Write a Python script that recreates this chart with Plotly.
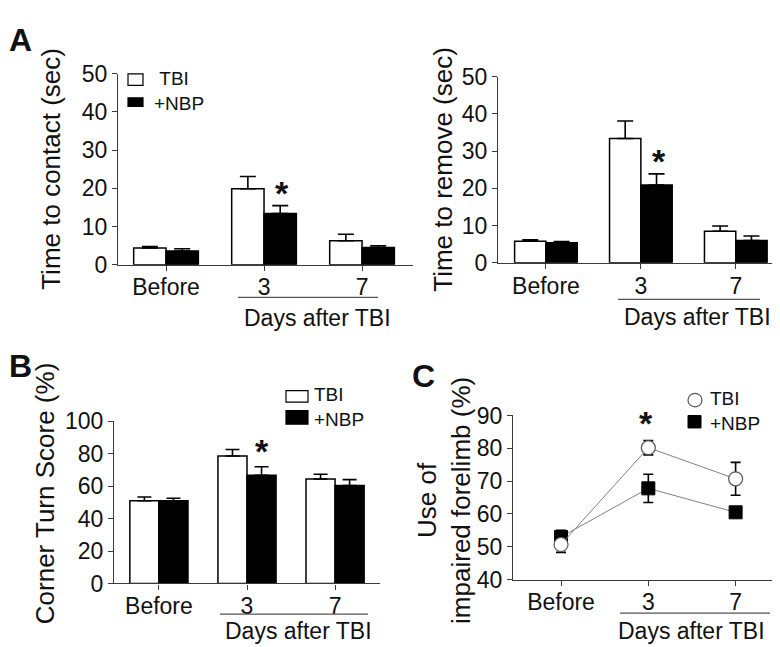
import plotly.graph_objects as go

W, H = 780, 647

def px(x):
    return x / W

def py(y):
    return 1 - y / H

# ---------------- data ----------------
categories = ["Before", "3", "7"]

contact_tbi = [4.4, 19.9, 6.3]
contact_tbi_err = [0.4, 3.2, 1.7]
contact_nbp = [3.6, 13.4, 4.5]
contact_nbp_err = [0.6, 2.1, 0.5]

remove_tbi = [5.8, 33.4, 8.5]
remove_tbi_err = [0.4, 4.7, 1.4]
remove_nbp = [5.4, 20.9, 6.0]
remove_nbp_err = [0.3, 3.0, 1.2]

corner_tbi = [51.0, 78.6, 64.4]
corner_tbi_err = [2.3, 4.0, 2.9]
corner_nbp = [51.0, 66.7, 60.4]
corner_nbp_err = [1.5, 5.2, 3.6]

forelimb_tbi = [50.7, 80.2, 70.7]
forelimb_tbi_err = [2.4, 2.2, 5.0]
forelimb_nbp = [53.0, 67.8, 60.5]
forelimb_nbp_err = [2.0, 4.3, 1.0]

series_names = ["TBI", "+NBP"]

FONT = "Liberation Sans, Arial, Helvetica, sans-serif"
AXC = "#3a3a3a"

fig = go.Figure()

def add_bars(xa, ya, tbi, tbi_err, nbp, nbp_err, capw):
    for vals, errs, fill, name in [(tbi, tbi_err, "white", series_names[0]),
                                   (nbp, nbp_err, "black", series_names[1])]:
        fig.add_trace(go.Bar(
            x=categories, y=vals, name=name, xaxis=xa, yaxis=ya,
            offsetgroup=name, showlegend=False,
            marker=dict(color=fill, line=dict(color="black", width=1.5)),
            error_y=dict(type="data", array=errs, arrayminus=[0] * len(errs),
                         symmetric=False, color="black", thickness=1.6, width=capw),
        ))

add_bars("x", "y", contact_tbi, contact_tbi_err, contact_nbp, contact_nbp_err, 8)
add_bars("x2", "y2", remove_tbi, remove_tbi_err, remove_nbp, remove_nbp_err, 8)
add_bars("x3", "y3", corner_tbi, corner_tbi_err, corner_nbp, corner_nbp_err, 7)

fig.add_trace(go.Scatter(
    x=categories, y=forelimb_nbp, name=series_names[1], xaxis="x4", yaxis="y4",
    mode="lines+markers", showlegend=False,
    line=dict(color="#808080", width=1),
    marker=dict(symbol="square", size=13, color="black", line=dict(color="black", width=1)),
    error_y=dict(type="data", array=forelimb_nbp_err, color="black", thickness=1.6, width=5),
))
fig.add_trace(go.Scatter(
    x=categories, y=forelimb_tbi, name=series_names[0], xaxis="x4", yaxis="y4",
    mode="lines+markers", showlegend=False,
    line=dict(color="#808080", width=1),
    marker=dict(symbol="circle", size=14, color="white", line=dict(color="#555555", width=1.2)),
    error_y=dict(type="data", array=forelimb_tbi_err, color="black", thickness=1.6, width=5),
))

def xax(domain, rng, anchor):
    return dict(domain=domain, range=rng, anchor=anchor, type="category",
                showline=True, linecolor=AXC, linewidth=1.2, ticks="outside",
                ticklen=5, tickcolor=AXC, tickwidth=1.2, showgrid=False, zeroline=False,
                ticklabelstandoff=-3,
                tickfont=dict(family=FONT, size=23, color="#111"), fixedrange=True)

def yax(domain, rng, dtick, anchor):
    return dict(domain=domain, range=rng, anchor=anchor, dtick=dtick, tick0=0,
                showline=True, linecolor=AXC, linewidth=1.2, ticks="outside",
                ticklen=5, tickcolor=AXC, tickwidth=1.2, showgrid=False, zeroline=False,
                tickfont=dict(family=FONT, size=23, color="#111"), fixedrange=True)

fig.update_layout(
    width=W, height=H, margin=dict(l=0, r=0, t=0, b=0),
    paper_bgcolor="white", plot_bgcolor="white",
    barmode="group", bargap=0.34, bargroupgap=0,
    font=dict(family=FONT, color="#111"),
    xaxis=xax([px(110), px(405)], [-0.49, 2.52], "y"),
    yaxis=yax([py(254), py(55)], [0, 50], 10, "x"),
    xaxis2=xax([px(490), px(780)], [-0.505, 2.55], "y2"),
    yaxis2=yax([py(252), py(58)], [0, 50], 10, "x2"),
    xaxis3=xax([px(106), px(372)], [-0.51, 2.51], "y3"),
    yaxis3=yax([py(586), py(417)], [0, 100], 20, "x3"),
    xaxis4=xax([px(505), px(780)], [-0.55, 2.6], "y4"),
    yaxis4=yax([py(582), py(411)], [40, 90], 10, "x4"),
)

ann = []
shapes = []

def text(x, y, s, size=22, angle=0, xanchor="center", yanchor="middle", align="center"):
    ann.append(dict(x=px(x), y=py(y), xref="paper", yref="paper", text=s,
                    showarrow=False, textangle=angle, xanchor=xanchor, yanchor=yanchor,
                    align=align, borderpad=0,
                    font=dict(family=FONT, size=size, color="#111")))

# panel letters
text(0, 0, "<b>A</b>", size=32, xanchor="left", yanchor="top")
text(0, 359, "<b>B</b>", size=32, xanchor="left")
text(415, 370, "<b>C</b>", size=32)

# y-axis titles
text(43, 154, "Time to contact (sec)", size=26, angle=-90)
text(435, 155, "Time to remove (sec)", size=26, angle=-90)
text(37, 492, "Corner Turn Score (%)", size=26, angle=-90)
text(436, 500, "Use of<br>impaired forelimb (%)", size=26, angle=-90)

# "Days after TBI" brackets
for x0, x1, yl, xt, yt in [(230, 370, 288, 309, 309), (610, 752, 290, 689, 308),
                           (212, 360, 618, 290, 636), (612, 762, 617, 683, 636)]:
    shapes.append(dict(type="line", xref="paper", yref="paper", x0=px(x0), x1=px(x1),
                       y0=py(yl), y1=py(yl), line=dict(color="#555", width=1.2)))
    text(xt, yt, "Days after TBI", size=23)

# significance asterisks
for x, y in [(274, 179), (651, 146), (254, 448), (638, 419)]:
    text(x, y, "<b>*</b>", size=34)

# legend A
shapes.append(dict(type="rect", xref="paper", yref="paper", x0=px(120), x1=px(135),
                   y0=py(55), y1=py(67), line=dict(color="black", width=1.2), fillcolor="white"))
shapes.append(dict(type="rect", xref="paper", yref="paper", x0=px(120), x1=px(135),
                   y0=py(80), y1=py(89), line=dict(color="black", width=1.2), fillcolor="black"))
text(145, 73, "&nbsp;TBI<br>+NBP", size=19, xanchor="left", align="left")

# legend B
shapes.append(dict(type="rect", xref="paper", yref="paper", x0=px(278), x1=px(300),
                   y0=py(385), y1=py(397), line=dict(color="black", width=1.2), fillcolor="white"))
shapes.append(dict(type="rect", xref="paper", yref="paper", x0=px(278), x1=px(300),
                   y0=py(406), y1=py(420), line=dict(color="black", width=1.2), fillcolor="black"))
text(305, 402, "TBI<br>+NBP", size=19, xanchor="left", align="left")

# legend C
shapes.append(dict(type="circle", xref="paper", yref="paper", x0=px(680), x1=px(694),
                   y0=py(388), y1=py(402), line=dict(color="#555", width=1.2), fillcolor="white"))
shapes.append(dict(type="rect", xref="paper", yref="paper", x0=px(680), x1=px(693),
                   y0=py(411), y1=py(424), line=dict(color="black", width=1), fillcolor="black"))
text(701, 406, "TBI<br>+NBP", size=19, xanchor="left", align="left")

fig.update_layout(annotations=ann, shapes=shapes)

fig.write_html("out.html")
